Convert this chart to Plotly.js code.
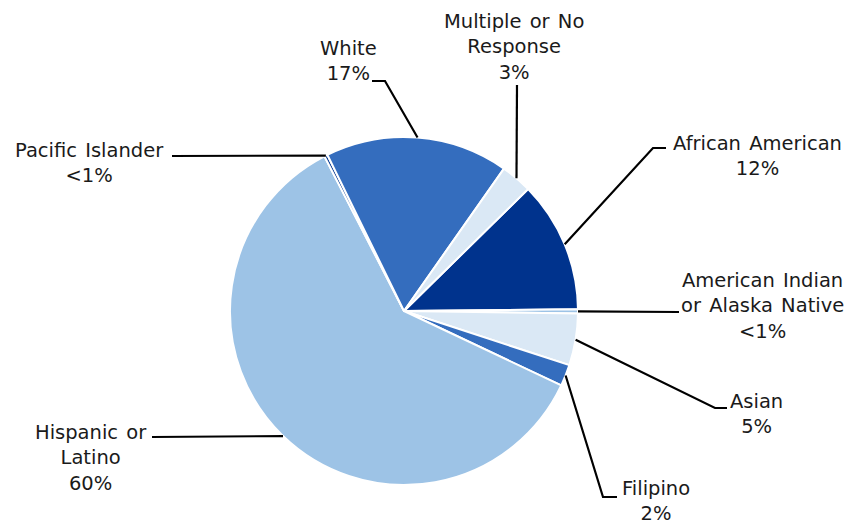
<!DOCTYPE html>
<html>
<head>
<meta charset="utf-8">
<script src="https://cdn.plot.ly/plotly-3.0.1.min.js"></script>
<style>
  html, body { margin: 0; padding: 0; background: #ffffff; }
  #chart { width: 847px; height: 525px; }
  #chart .annotation-text { word-spacing: 2px; }
</style>
</head>
<body>
<div id="chart"></div>
<script>
// ---- data ----
const categories = ["African American", "American Indian or Alaska Native", "Asian", "Filipino",
                    "Hispanic or Latino", "Pacific Islander", "White", "Multiple or No Response"];
const displayNames = ["African American", "American Indian<br>or Alaska Native", "Asian", "Filipino",
                      "Hispanic or<br>Latino", "Pacific Islander", "White", "Multiple or No<br>Response"];
const values = [12.2, 0.4, 4.8, 2.0, 60.4, 0.3, 17.0, 2.9];
const sliceColors = ["#00338D", "#9DC3E6", "#DAE8F5", "#346DBE", "#9DC3E6", "#00338D", "#346DBE", "#DAE8F5"];

// ---- layout geometry (pixels) ----
const W = 847, H = 525;
const CX = 404, CY = 311, R = 174;
const ROTATION = 45.5;

// label centre, and leader-line points next to the label (end, optional elbow)
const labelLayout = {
  "African American":                 {pos: [757, 156],   pts: [[666, 148], [653, 148]]},
  "American Indian or Alaska Native": {pos: [762, 306],   pts: [[679, 312]]},
  "Asian":                            {pos: [756, 414],   pts: [[727, 408], [715, 408]]},
  "Filipino":                         {pos: [656, 501],   pts: [[617, 497], [603, 497]]},
  "Hispanic or Latino":               {pos: [91, 458],    pts: [[152, 437]]},
  "Pacific Islander":                 {pos: [89, 163.5],  pts: [[172, 156]]},
  "White":                            {pos: [348, 60.5],  pts: [[372, 81], [385, 81]]},
  "Multiple or No Response":          {pos: [514, 47],    pts: [[517, 85]]}
};

const px = x => x / W;
const py = y => 1 - y / H;

const total = values.reduce((a, b) => a + b, 0);
const pctText = v => (v < 1 ? "<1%" : Math.round(v / total * 100) + "%");

const annotations = [];
const shapes = [];
let angle = ROTATION;
values.forEach((v, i) => {
  const sweep = v / total * 360;
  const mid = (angle + sweep / 2) * Math.PI / 180;
  angle += sweep;
  const edge = [CX + R * Math.sin(mid), CY - R * Math.cos(mid)];
  const L = labelLayout[categories[i]];
  annotations.push({
    x: px(L.pos[0]), y: py(L.pos[1]), xref: "paper", yref: "paper",
    xanchor: "center", yanchor: "middle", showarrow: false, align: "center",
    text: displayNames[i] + "<br>" + pctText(v),
    font: {family: "DejaVu Sans, sans-serif", size: 19.5, color: "#1a1a1a"}
  });
  const pts = L.pts.concat([edge]);
  let path = "M " + px(pts[0][0]) + " " + py(pts[0][1]);
  for (let k = 1; k < pts.length; k++) path += " L " + px(pts[k][0]) + " " + py(pts[k][1]);
  shapes.push({type: "path", xref: "paper", yref: "paper", path: path,
               line: {color: "#000000", width: 2.2}, layer: "above"});
});

const trace = {
  type: "pie",
  labels: categories,
  values: values,
  sort: false,
  direction: "clockwise",
  rotation: ROTATION,
  textinfo: "none",
  hoverinfo: "label+percent",
  marker: {colors: sliceColors, line: {color: "#ffffff", width: 2}},
  domain: {x: [(CX - R) / W, (CX + R) / W], y: [(H - CY - R) / H, (H - CY + R) / H]}
};

const layout = {
  width: W, height: H,
  margin: {l: 0, r: 0, t: 0, b: 0},
  paper_bgcolor: "#ffffff",
  showlegend: false,
  annotations: annotations,
  shapes: shapes
};

Plotly.newPlot("chart", [trace], layout, {displayModeBar: false, staticPlot: true});
</script>
</body>
</html>
